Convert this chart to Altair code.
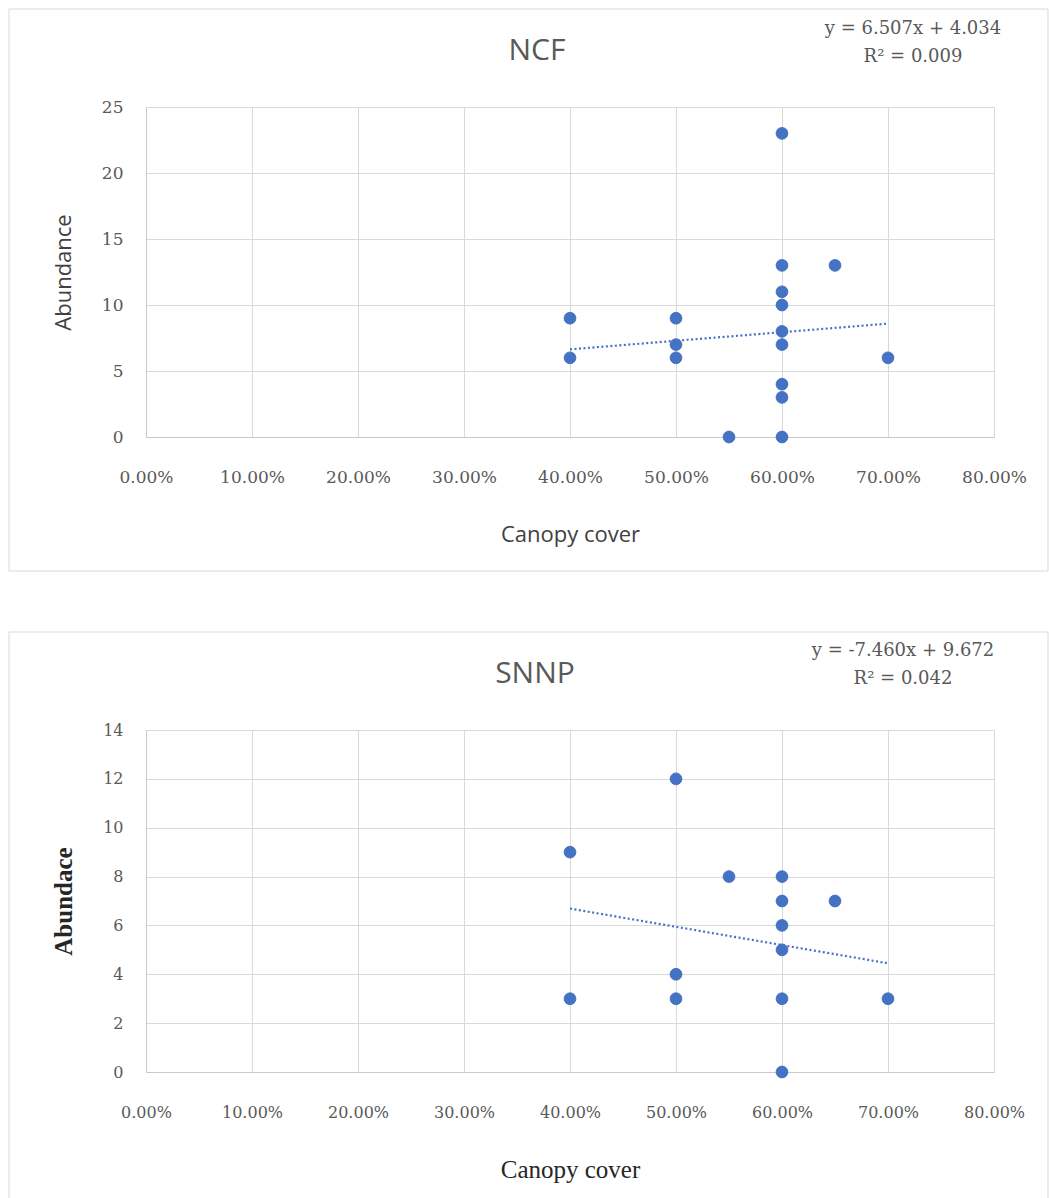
import altair as alt
import pandas as pd

# ---- data ----
ncf_cover = [0.40, 0.40, 0.50, 0.50, 0.50, 0.55, 0.60, 0.60, 0.60, 0.60, 0.60,
             0.60, 0.60, 0.60, 0.60, 0.65, 0.70]
ncf_abund = [9, 6, 9, 7, 6, 0, 23, 13, 11, 10, 8, 7, 4, 3, 0, 13, 6]
ncf_trend_x = [0.40, 0.70]
ncf_trend_y = [6.64, 8.59]
ncf_eq = "y = 6.507x + 4.034\nR² = 0.009"

snnp_cover = [0.40, 0.40, 0.50, 0.50, 0.50, 0.55, 0.60, 0.60, 0.60, 0.60, 0.60,
              0.60, 0.65, 0.70]
snnp_abund = [9, 3, 12, 4, 3, 8, 8, 7, 6, 5, 3, 0, 7, 3]
snnp_trend_x = [0.40, 0.70]
snnp_trend_y = [6.69, 4.45]
snnp_eq = "y = -7.460x + 9.672\nR² = 0.042"

x_ticks = [0.0, 0.1, 0.2, 0.3, 0.4, 0.5, 0.6, 0.7, 0.8]

BLUE = "#4472c4"
GRID = "#d9d9d9"
LABEL = "#595959"
W = 848


def panel(title, ytitle, xs, ys, tx, ty, eq, ymax, ystep, height, serif_titles,
          tick_size, eq_x, eq_y, title_x):
    df = pd.DataFrame({"cover": xs, "abund": ys})
    tr = pd.DataFrame({"cover": tx, "abund": ty})
    if serif_titles:
        tfont, tsize, tcol, yweight = "Liberation Serif", 25, "#262626", "bold"
    else:
        tfont, tsize, tcol, yweight = "Open Sans", 22, "#404040", "normal"

    xscale = alt.Scale(domain=[0, 0.8], nice=False, zero=True)
    yscale = alt.Scale(domain=[0, ymax], nice=False)
    yticks = list(range(0, ymax + 1, ystep))

    xaxis = alt.Axis(values=x_ticks, format=".2%", title="Canopy cover",
                     grid=True, gridColor=GRID, domainColor="#c8c8c8",
                     ticks=False, tickSize=0, labelFont="DejaVu Serif",
                     labelFontSize=tick_size, labelColor=LABEL,
                     labelBaseline="middle", labelPadding=40,
                     titleFont=tfont, titleFontSize=tsize, titleColor=tcol,
                     titleFontWeight="normal", titleBaseline="middle",
                     titleY=97, labelFlush=False)
    yaxis = alt.Axis(values=yticks, title=ytitle,
                     grid=True, gridColor=GRID, domainColor="#c8c8c8",
                     ticks=False, tickSize=0, labelFont="DejaVu Serif",
                     labelFontSize=tick_size, labelColor=LABEL,
                     labelPadding=23, labelBaseline="middle",
                     titleFont=tfont, titleFontSize=tsize, titleColor=tcol,
                     titleFontWeight=yweight, titleBaseline="middle",
                     titleX=-83, titleY=height / 2)

    frame = alt.Chart(alt.Data(values=[{"f": 1}])).mark_rect(
        filled=False, stroke="#d9d9d9", strokeWidth=1
    ).encode(x=alt.value(-137), x2=alt.value(902),
             y=alt.value(-98), y2=alt.value(height + 134))

    pts = alt.Chart(df).mark_circle(size=140, color=BLUE, opacity=1,
                                    stroke="#3e69b5", strokeWidth=0.8).encode(
        x=alt.X("cover:Q", scale=xscale, axis=xaxis),
        y=alt.Y("abund:Q", scale=yscale, axis=yaxis),
    )
    trend = alt.Chart(tr).mark_line(color=BLUE, strokeWidth=2.2,
                                    strokeDash=[2, 2.5]).encode(
        x=alt.X("cover:Q", scale=xscale),
        y=alt.Y("abund:Q", scale=yscale),
    )
    ttl = alt.Chart(alt.Data(values=[{"t": title}])).mark_text(
        font="Open Sans", fontSize=30, color=LABEL, align="center",
        baseline="middle"
    ).encode(text="t:N", x=alt.value(title_x), y=alt.value(-56))
    eqs = alt.Chart(alt.Data(values=[{"t": eq}])).mark_text(
        font="DejaVu Serif", fontSize=18, color=LABEL, align="center",
        baseline="middle", lineBreak="\n", lineHeight=28
    ).encode(text="t:N", x=alt.value(eq_x), y=alt.value(eq_y))
    return alt.layer(frame, pts, trend, ttl, eqs).properties(width=W, height=height)


top = panel("NCF", "Abundance", ncf_cover, ncf_abund, ncf_trend_x, ncf_trend_y,
            ncf_eq, 25, 5, 330, False, 17, 767, -78, 391)
bottom = panel("SNNP", "Abundace", snnp_cover, snnp_abund, snnp_trend_x,
               snnp_trend_y, snnp_eq, 14, 2, 342, True, 16, 757, -79, 389)

chart = alt.vconcat(top, bottom, spacing=293, bounds="flush").resolve_scale(
    y="independent"
).properties(
    padding={"left": 8, "top": 8, "right": 0, "bottom": 0},
    background="white",
).configure_view(stroke=None)

chart.save("out.html", embed_options={"renderer": "svg", "actions": False})
